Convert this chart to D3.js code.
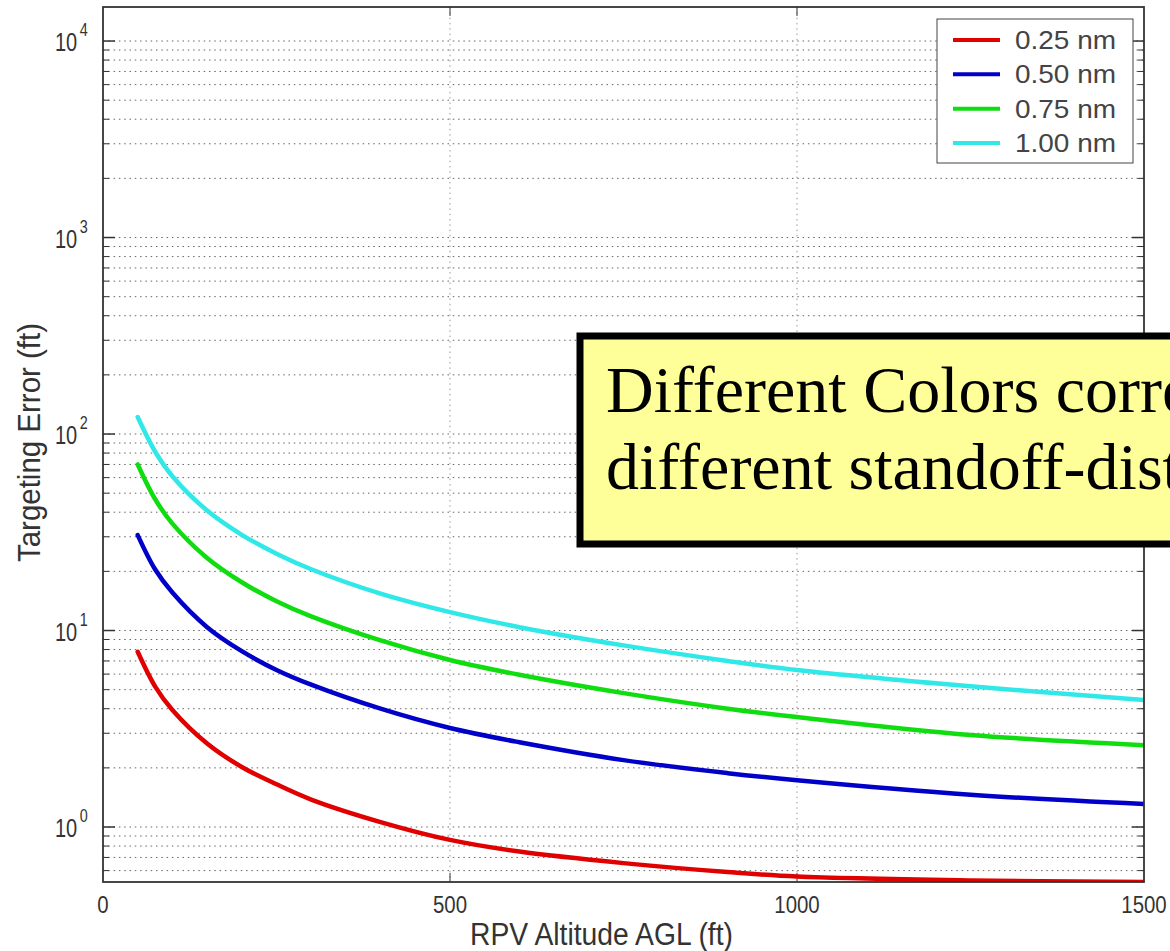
<!DOCTYPE html>
<html>
<head>
<meta charset="utf-8">
<script src="https://cdn.jsdelivr.net/npm/d3@7"></script>
<style>
  body { margin: 0; background: #fff; }
  text { font-family: "Liberation Sans", Arial, sans-serif; fill: #333; }
  text.serif { font-family: "Liberation Serif", "Times New Roman", serif; fill: #000; }
</style>
</head>
<body>
<svg id="chart" width="1170" height="951"></svg>
<script>
// altitude samples (ft) and targeting error (ft)
const altitude = [50, 75, 100, 150, 200, 250, 300, 400, 500, 600, 750, 900, 1000, 1250, 1500];
const err025 = [7.8, 5.2, 3.94, 2.66, 2.02, 1.65, 1.38, 1.06, 0.86, 0.75, 0.655, 0.59, 0.56, 0.535, 0.525];
const err050 = [30.6, 20.5, 15.6, 10.4, 7.85, 6.3, 5.3, 4.0, 3.19, 2.7, 2.19, 1.88, 1.73, 1.46, 1.31];
const err075 = [70, 46.7, 35, 23.4, 17.6, 14.1, 11.8, 8.9, 7.08, 5.95, 4.8, 4.0, 3.63, 2.94, 2.61];
const err100 = [122, 81.5, 61, 40.8, 30.7, 24.6, 20.5, 15.4, 12.4, 10.4, 8.4, 7.0, 6.3, 5.2, 4.43];

const seriesNames = ["0.25 nm", "0.50 nm", "0.75 nm", "1.00 nm"];
const seriesColors = ["#e00000", "#0000c8", "#10dd10", "#30e8e8"];
const seriesValues = [err025, err050, err075, err100];

const xTicks = [0, 500, 1000, 1500];
const yDecades = [1, 10, 100, 1000, 10000];

const svg = d3.select("#chart");
const plotL = 103, plotR = 1144, plotT = 7, plotB = 882;

const x = d3.scaleLinear().domain([0, 1500]).range([plotL, plotR]);
const y = d3.scaleLog().domain([0.525, 14900]).range([plotB, plotT]);

// grid values: every 1..9 of each decade inside the limits
let gridVals = [];
for (let k = -1; k <= 4; k++)
    for (let m = 1; m <= 9; m++) {
        let v = m * Math.pow(10, k);
        if (v >= 0.525 && v <= 14900) gridVals.push(v);
    }

const grid = svg.append("g").attr("class", "grid");
grid.selectAll(".hgrid")
    .data(gridVals)
    .enter()
    .append("line")
    .attr("x1", plotL).attr("x2", plotR)
    .attr("y1", d => y(d)).attr("y2", d => y(d))
    .attr("stroke", "#666")
    .attr("stroke-width", 1)
    .attr("stroke-dasharray", "1.5,3.8");

grid.selectAll(".vgrid")
    .data([500, 1000])
    .enter()
    .append("line")
    .attr("x1", d => x(d)).attr("x2", d => x(d))
    .attr("y1", plotT).attr("y2", plotB)
    .attr("stroke", "#999")
    .attr("stroke-width", 1)
    .attr("stroke-dasharray", "1.5,3.8");

// ticks on all four sides
const ticks = svg.append("g").attr("class", "ticks").attr("stroke", "#333");
gridVals.forEach(v => {
    let major = yDecades.indexOf(v) >= 0;
    let len = major ? 12 : 6;
    ticks.append("line").attr("x1", plotL).attr("x2", plotL + len).attr("y1", y(v)).attr("y2", y(v)).attr("stroke-width", major ? 1.5 : 1);
    ticks.append("line").attr("x1", plotR).attr("x2", plotR - len).attr("y1", y(v)).attr("y2", y(v)).attr("stroke-width", major ? 1.5 : 1);
});
[500, 1000].forEach(v => {
    ticks.append("line").attr("x1", x(v)).attr("x2", x(v)).attr("y1", plotB).attr("y2", plotB - 9);
    ticks.append("line").attr("x1", x(v)).attr("x2", x(v)).attr("y1", plotT).attr("y2", plotT + 9);
});

// curves
svg.append("clipPath").attr("id", "plotclip")
    .append("rect").attr("x", plotL).attr("y", plotT).attr("width", plotR - plotL).attr("height", plotB - plotT);

const line = d3.line()
    .x((d, i) => x(altitude[i]))
    .y(d => y(d))
    .curve(d3.curveCatmullRom.alpha(0.5));

svg.append("g")
    .attr("clip-path", "url(#plotclip)")
    .selectAll("path")
    .data(seriesValues)
    .enter()
    .append("path")
    .attr("d", line)
    .attr("fill", "none")
    .attr("stroke", (d, i) => seriesColors[i])
    .attr("stroke-width", 4.5)
    .attr("stroke-linecap", "round");

// frame
svg.append("rect")
    .attr("x", plotL).attr("y", plotT)
    .attr("width", plotR - plotL).attr("height", plotB - plotT)
    .attr("fill", "none")
    .attr("stroke", "#333")
    .attr("stroke-width", 1.8);

// x tick labels
svg.selectAll(".xlab")
    .data(xTicks)
    .enter()
    .append("text")
    .attr("x", d => x(d))
    .attr("y", 913)
    .attr("text-anchor", "middle")
    .attr("font-size", 24)
    .attr("transform", d => `translate(${x(d) * 0.15},0) scale(0.85,1)`)
    .text(d => d);

// y tick labels 10^k, narrow face, exponent raised
yDecades.forEach((v, k) => {
    let t = svg.append("text")
        .attr("transform", `translate(55,${y(v) + 10}) scale(0.8,1)`)
        .attr("font-size", 25);
    t.append("tspan").text("10");
    t.append("tspan")
        .attr("dx", 3).attr("dy", -15)
        .attr("font-size", 18)
        .text(k);
});

// axis titles
svg.append("text")
    .attr("x", 470).attr("y", 945)
    .attr("font-size", 31)
    .attr("textLength", 263)
    .attr("lengthAdjust", "spacingAndGlyphs")
    .text("RPV Altitude AGL (ft)");

svg.append("text")
    .attr("transform", "translate(40,562) rotate(-90)")
    .attr("font-size", 31)
    .attr("textLength", 239)
    .attr("lengthAdjust", "spacingAndGlyphs")
    .text("Targeting Error (ft)");

// legend
const legend = svg.append("g").attr("class", "legend");
legend.append("rect")
    .attr("x", 937).attr("y", 19)
    .attr("width", 196).attr("height", 144)
    .attr("fill", "#fff")
    .attr("stroke", "#444")
    .attr("stroke-width", 1);
const legendY = d3.scalePoint().domain(seriesNames).range([40, 143]);
seriesNames.forEach((n, i) => {
    legend.append("line")
        .attr("x1", 953).attr("x2", 1000)
        .attr("y1", legendY(n)).attr("y2", legendY(n))
        .attr("stroke", seriesColors[i])
        .attr("stroke-width", 4);
    legend.append("text")
        .attr("x", 1015).attr("y", legendY(n) + 9)
        .attr("font-size", 26)
        .attr("textLength", 101)
        .attr("lengthAdjust", "spacingAndGlyphs")
        .style("fill", "#444")
        .text(n);
});

// yellow annotation box (runs off the right edge, as in the slide)
const note = svg.append("g").attr("class", "note");
note.append("rect")
    .attr("x", 580).attr("y", 336)
    .attr("width", 700).attr("height", 208)
    .attr("fill", "#ffff99")
    .attr("stroke", "#000")
    .attr("stroke-width", 7);
["Different Colors correspond to", "different standoff-distances"].forEach((t, i) => {
    note.append("text")
        .attr("class", "serif")
        .attr("x", 606).attr("y", 412 + i * 77)
        .attr("font-size", 66)
        .text(t);
});
</script>
</body>
</html>
